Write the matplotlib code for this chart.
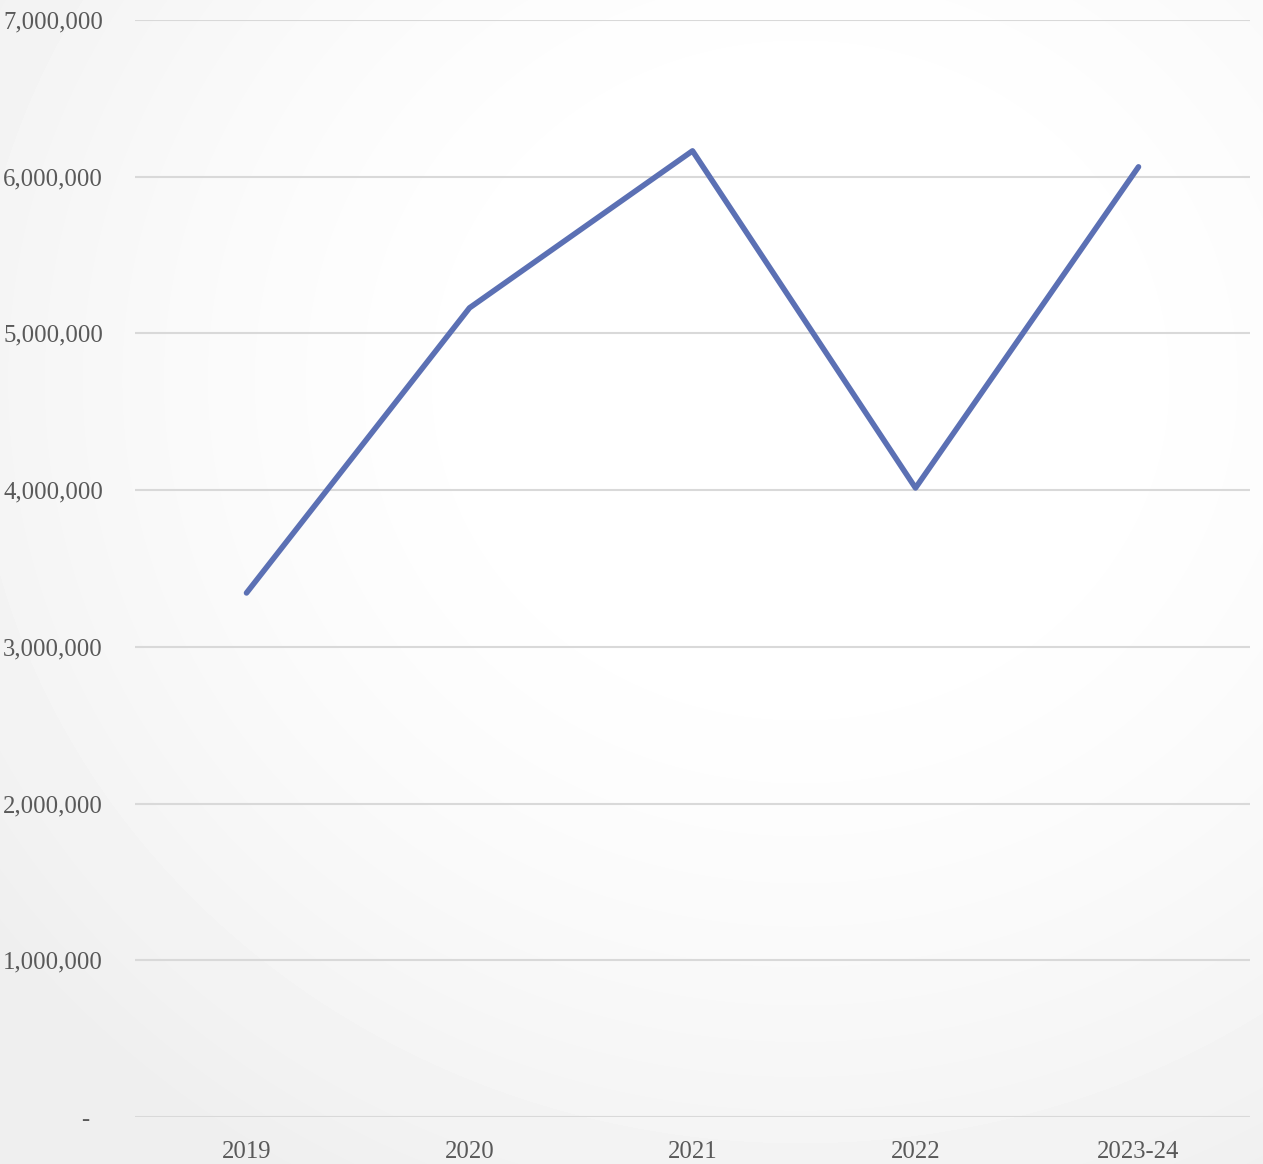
import matplotlib
import numpy as np

matplotlib.use("Agg")
import matplotlib.pyplot as plt  # noqa: E402
from matplotlib.ticker import FuncFormatter  # noqa: E402

categories = ["2019", "2020", "2021", "2022", "2023-24"]
values = [3344000, 5163000, 6165000, 4014000, 6063000]
y_ticks = [0, 1000000, 2000000, 3000000, 4000000, 5000000, 6000000, 7000000]

W, H = 1263, 1164
fig = plt.figure(figsize=(W / 100, H / 100), dpi=100)
plt.rcParams["font.family"] = ["Liberation Serif", "DejaVu Serif"]

# soft radial background, white in the middle, light grey towards the corners
bg = fig.add_axes([0, 0, 1, 1], zorder=-1)
yy, xx = np.mgrid[0:H, 0:W]
r = np.sqrt(((xx - 800) / W) ** 2 + ((yy - 380) / H) ** 2)
shade = 1.0 - 0.065 * np.clip((r - 0.2) / 0.6, 0, 1) ** 1.5
bg.imshow(shade, cmap="gray", vmin=0, vmax=1, aspect="auto", extent=[0, 1, 0, 1])
bg.axis("off")

ax = fig.add_axes([135 / W, 1 - 1117 / H, 1115 / W, 1097 / H])
ax.patch.set_alpha(0)

x = np.arange(len(categories))
ax.plot(x, values, color="#5B70B4", lw=4.0, solid_capstyle="round",
        solid_joinstyle="round", zorder=3)

ax.set_xlim(-0.5, len(categories) - 0.5)
ax.set_ylim(0, 7000000)
ax.set_yticks(y_ticks)
# accounting-style zero: a dash sitting a little left of the other labels
ax.yaxis.set_major_formatter(
    FuncFormatter(lambda v, p: "-  " if v == 0 else f"{int(v):,}"))
ax.set_xticks(x)
ax.set_xticklabels(categories)

ax.grid(axis="y", color="#d9d9d9", lw=1.5)
ax.set_axisbelow(True)
for s in ax.spines.values():
    s.set_visible(False)
ax.tick_params(length=0, labelsize=17.8, labelcolor="#595959")
ax.tick_params(axis="y", pad=23)
ax.tick_params(axis="x", pad=17)

fig.savefig("out.png", dpi=100)
plt.close()
